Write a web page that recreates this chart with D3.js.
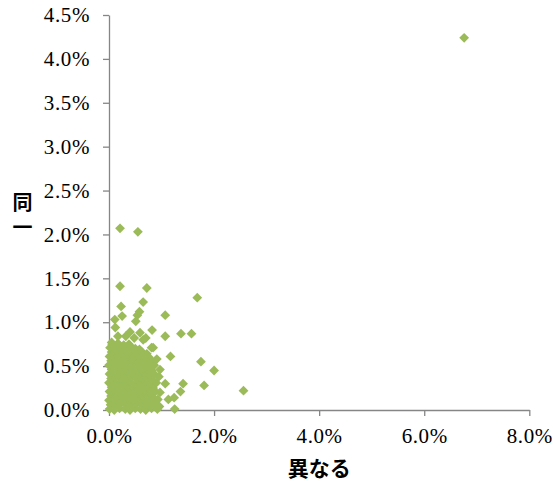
<!DOCTYPE html>
<html>
<head>
<meta charset="utf-8">
<script src="https://cdn.jsdelivr.net/npm/d3@7/dist/d3.min.js"></script>
<style>
  html, body { margin: 0; padding: 0; background: #ffffff; }
  svg { display: block; }
</style>
</head>
<body>
<svg id="chart" width="553" height="483"></svg>
<script>
// Share of each item: "異なる" (x) vs "同一" (y), values in percent.
const xTicks = [0, 2, 4, 6, 8];
const yTicks = [0, 0.5, 1, 1.5, 2, 2.5, 3, 3.5, 4, 4.5];
const xTitle = "異なる";
const yTitle = "同一";

// dense group near the origin
const clusterPoints = [
  [0.01,0.01],[0.1,0.0],[0.2,0.02],[0.31,0.01],[0.4,0.0],[0.5,0.02],[0.6,0.01],[0.7,0.0],[0.81,0.02],
  [0.03,0.06],[0.13,0.05],[0.22,0.07],[0.33,0.06],[0.42,0.05],[0.52,0.07],[0.63,0.06],[0.72,0.05],[0.8,0.07],[0.89,0.05],
  [0.0,0.11],[0.09,0.12],[0.18,0.1],[0.27,0.11],[0.38,0.12],[0.47,0.1],[0.57,0.11],[0.66,0.12],[0.76,0.1],[0.85,0.11],[0.93,0.12],
  [0.04,0.16],[0.14,0.17],[0.24,0.15],[0.34,0.16],[0.44,0.17],[0.55,0.15],[0.64,0.16],[0.73,0.17],[0.83,0.15],
  [0.01,0.21],[0.1,0.22],[0.2,0.2],[0.3,0.21],[0.39,0.22],[0.49,0.2],[0.59,0.21],[0.69,0.22],[0.78,0.2],[0.88,0.21],
  [0.05,0.26],[0.15,0.27],[0.25,0.25],[0.36,0.26],[0.45,0.27],[0.54,0.25],[0.64,0.26],[0.74,0.27],[0.84,0.25],
  [0.0,0.31],[0.1,0.32],[0.2,0.3],[0.3,0.31],[0.4,0.32],[0.5,0.3],[0.6,0.31],[0.7,0.32],[0.8,0.3],[0.9,0.31],
  [0.04,0.36],[0.13,0.37],[0.23,0.35],[0.33,0.36],[0.43,0.37],[0.53,0.35],[0.63,0.36],[0.72,0.37],[0.82,0.35],
  [0.01,0.41],[0.09,0.42],[0.19,0.4],[0.29,0.41],[0.39,0.42],[0.48,0.4],[0.58,0.41],[0.68,0.42],[0.77,0.4],[0.86,0.41],
  [0.05,0.46],[0.14,0.47],[0.24,0.45],[0.34,0.46],[0.44,0.47],[0.54,0.45],[0.63,0.46],[0.73,0.47],[0.81,0.45],
  [0.0,0.51],[0.1,0.52],[0.2,0.5],[0.3,0.51],[0.4,0.52],[0.5,0.5],[0.6,0.51],[0.69,0.52],[0.78,0.5],[0.86,0.51],
  [0.04,0.56],[0.14,0.57],[0.24,0.55],[0.34,0.56],[0.44,0.57],[0.54,0.55],[0.64,0.56],[0.73,0.57],[0.81,0.55],
  [0.01,0.61],[0.1,0.62],[0.19,0.6],[0.29,0.61],[0.38,0.62],[0.48,0.6],[0.58,0.61],[0.67,0.62],[0.76,0.6],
  [0.05,0.66],[0.15,0.67],[0.25,0.65],[0.35,0.66],[0.45,0.67],[0.55,0.65],[0.63,0.66],[0.72,0.64],
  [0.02,0.71],[0.12,0.72],[0.22,0.7],[0.32,0.71],[0.42,0.72],[0.5,0.7],[0.58,0.69],
  [0.06,0.75],[0.17,0.76],[0.28,0.74],[0.38,0.75],
  [0.95,0.38],[0.97,0.2],[0.91,0.58],[0.96,0.04]
];

// items lying outside the dense group
const spreadPoints = [
  [0.21,2.07],[0.55,2.03],[0.21,1.41],[0.72,1.39],[1.68,1.28],[0.23,1.18],[0.65,1.23],
  [1.07,1.08],[0.58,1.12],[0.54,1.08],[0.11,1.03],[0.25,1.07],[0.51,1.01],[0.12,0.94],
  [0.82,0.91],[1.07,0.84],[1.37,0.87],[1.57,0.87],[0.40,0.89],[0.05,0.77],[0.81,0.71],
  [0.32,0.84],[0.48,0.82],[0.59,0.88],[0.70,0.82],[0.17,0.84],[0.65,0.80],[0.84,0.71],
  [1.75,0.55],[2.00,0.45],[1.81,0.28],[2.56,0.22],[1.41,0.30],[1.36,0.21],[1.24,0.14],
  [1.13,0.12],[1.25,0.01],[0.92,0.01],[1.17,0.61],[0.97,0.46],[1.07,0.30]
];

const outlierPoints = [[6.76, 4.24]];

const allPoints = clusterPoints.concat(spreadPoints, outlierPoints);

const svg = d3.select("#chart");
const axisColor = "#868686";
const markColor = "#9bbb59";

const x = d3.scaleLinear().domain([0, 8]).range([109, 529.3]);
const y = d3.scaleLinear().domain([0, 4.5]).range([410, 15]);

const fmt = d => d.toFixed(1) + "%";

const xAxis = svg.append("g")
  .attr("transform", "translate(0,410)")
  .call(d3.axisBottom(x).tickValues(xTicks).tickFormat(fmt).tickSizeInner(6).tickSizeOuter(0).tickPadding(12));

const yAxis = svg.append("g")
  .attr("transform", "translate(109,0)")
  .call(d3.axisLeft(y).tickValues(yTicks).tickFormat(fmt).tickSizeInner(6).tickSizeOuter(0).tickPadding(13));

[xAxis, yAxis].forEach(g => {
  g.attr("font-family", "Times New Roman").attr("font-size", 21);
  g.select(".domain").attr("stroke", axisColor).attr("stroke-width", 1.3);
  g.selectAll(".tick line").attr("stroke", axisColor).attr("stroke-width", 1.3);
  g.selectAll(".tick text")
    .attr("fill", "#000")
    .attr("font-family", "Times New Roman")
    .attr("font-size", 21)
    .attr("letter-spacing", 0.6);
});

// diamond markers
const diamond = d3.symbol().type(d3.symbolSquare).size(48);
svg.append("g")
  .selectAll("path")
  .data(allPoints)
  .join("path")
  .attr("d", diamond)
  .attr("transform", d => `translate(${x(d[0])},${y(d[1])}) rotate(45)`)
  .attr("fill", markColor);

// axis titles
svg.append("text")
  .attr("x", (x(0) + x(8)) / 2)
  .attr("y", 476)
  .attr("text-anchor", "middle")
  .attr("font-family", "Noto Sans CJK JP")
  .attr("font-weight", "bold")
  .attr("font-size", 21)
  .text(xTitle);

// vertical title, one glyph above the other
svg.append("text")
  .attr("x", 22.5)
  .attr("y", 217)
  .attr("text-anchor", "middle")
  .style("writing-mode", "vertical-rl")
  .style("text-orientation", "upright")
  .style("letter-spacing", "5px")
  .attr("font-family", "Noto Sans CJK JP")
  .attr("font-weight", "bold")
  .attr("font-size", 20)
  .text(yTitle);
</script>
</body>
</html>
